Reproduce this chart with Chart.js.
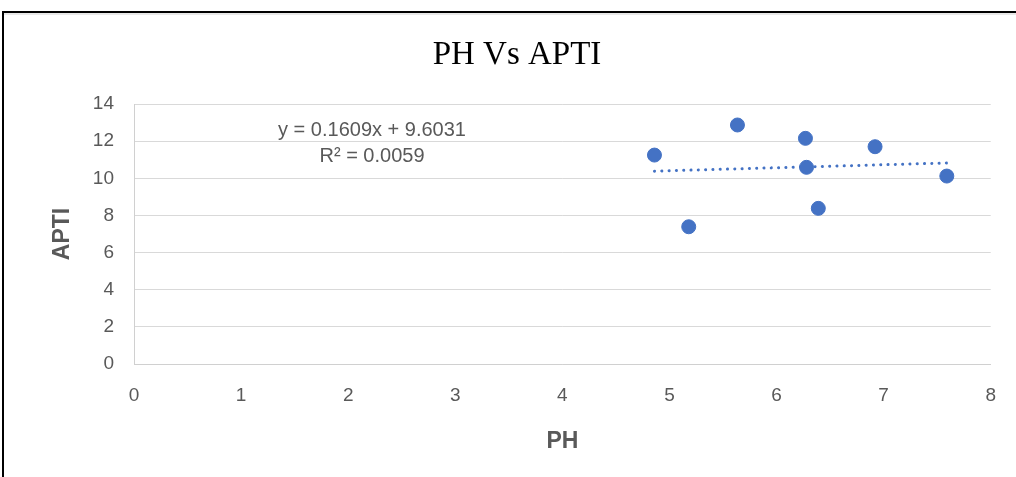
<!DOCTYPE html>
<html>
<head>
<meta charset="utf-8">
<script src="https://cdn.jsdelivr.net/npm/chart.js@4.4.1/dist/chart.umd.min.js"></script>
<style>
  html, body { margin: 0; padding: 0; background: #ffffff; }
  #wrap { position: relative; width: 1016px; height: 477px; overflow: hidden; }
  #c { position: absolute; left: 0; top: 0; }
  #frame { position: absolute; left: 2px; top: 11px; width: 1100px; height: 600px;
           border-top: 2px solid #000; border-left: 2px solid #000; pointer-events: none; }
  #shade { position: absolute; left: 4px; top: 13px; width: 1100px; height: 2px; background: #e8e8e8; }
</style>
</head>
<body>
<div id="wrap">
  <canvas id="c" width="1016" height="477"></canvas>
  <div id="shade"></div>
  <div id="frame"></div>
</div>
<script>
// Data
const phValues   = [4.86, 5.18, 5.635, 6.27, 6.28, 6.39, 6.92, 7.59];
const aptiValues = [11.25, 7.39, 12.87, 12.15, 10.59, 8.38, 11.70, 10.12];
const trendSlope = 0.1609;
const trendIntercept = 9.6031;
const trendLabel = ['y = 0.1609x + 9.6031', 'R\u00B2 = 0.0059'];
const chartTitle = 'PH Vs APTI';
const xAxisTitle = 'PH';
const yAxisTitle = 'APTI';

const points = phValues.map((x, i) => ({ x: x, y: aptiValues[i] }));
const xMin = Math.min(...phValues), xMax = Math.max(...phValues);
const trend = [xMin, xMax].map(x => ({ x: x, y: trendSlope * x + trendIntercept }));

const textPlugin = {
  id: 'texts',
  afterDatasetsDraw(chart) {
    const ctx = chart.ctx;
    ctx.save();
    ctx.textAlign = 'center';
    ctx.textBaseline = 'middle';
    ctx.fillStyle = '#000000';
    ctx.font = '33px "Liberation Serif", "Times New Roman", serif';
    ctx.fillText(chartTitle, 517, 55);
    ctx.fillStyle = '#595959';
    ctx.font = '20px "Liberation Sans", Arial, sans-serif';
    ctx.fillText(trendLabel[0], 372, 130);
    ctx.fillText(trendLabel[1], 372, 156);
    ctx.restore();
  }
};

new Chart(document.getElementById('c'), {
  type: 'scatter',
  data: {
    datasets: [
      {
        label: 'APTI',
        data: points,
        backgroundColor: '#4472C4',
        borderColor: '#4472C4',
        pointRadius: 7,
        pointHoverRadius: 7,
        order: 0
      },
      {
        type: 'line',
        label: 'Trend',
        data: trend,
        borderColor: '#4472C4',
        borderWidth: 3,
        borderDash: [0.1, 7.2],
        borderCapStyle: 'round',
        pointRadius: 0,
        fill: false,
        order: 1
      }
    ]
  },
  plugins: [textPlugin],
  options: {
    responsive: false,
    animation: false,
    devicePixelRatio: 1,
    layout: { padding: { top: 104, right: 23, left: 0, bottom: 0 } },
    plugins: {
      legend: { display: false },
      tooltip: { enabled: false },
      title: { display: false }
    },
    scales: {
      x: {
        type: 'linear',
        min: 0, max: 8,
        ticks: { stepSize: 1, color: '#595959', padding: 20,
                 font: { family: '"Liberation Sans", Arial, sans-serif', size: 19 } },
        grid: { display: false, drawTicks: false },
        border: { display: true, color: '#d0d0d0', width: 1 },
        title: { display: true, text: xAxisTitle, color: '#595959',
                 font: { family: '"Liberation Sans", Arial, sans-serif', size: 23, weight: 'bold', lineHeight: 1.2 },
                 padding: { top: 0, bottom: 22 } },
        afterFit(scale) { scale.height = 113; }
      },
      y: {
        type: 'linear',
        min: 0, max: 14,
        ticks: { stepSize: 2, color: '#595959', padding: 20,
                 font: { family: '"Liberation Sans", Arial, sans-serif', size: 19 } },
        grid: { color: '#d9d9d9', lineWidth: 1, drawTicks: false },
        border: { display: true, color: '#d0d0d0', width: 1 },
        title: { display: true, text: yAxisTitle, color: '#595959',
                 font: { family: '"Liberation Sans", Arial, sans-serif', size: 23, weight: 'bold', lineHeight: 1.2 },
                 padding: { top: 49, bottom: 0 } },
        afterFit(scale) { scale.width = 134; }
      }
    }
  }
});
</script>
</body>
</html>
